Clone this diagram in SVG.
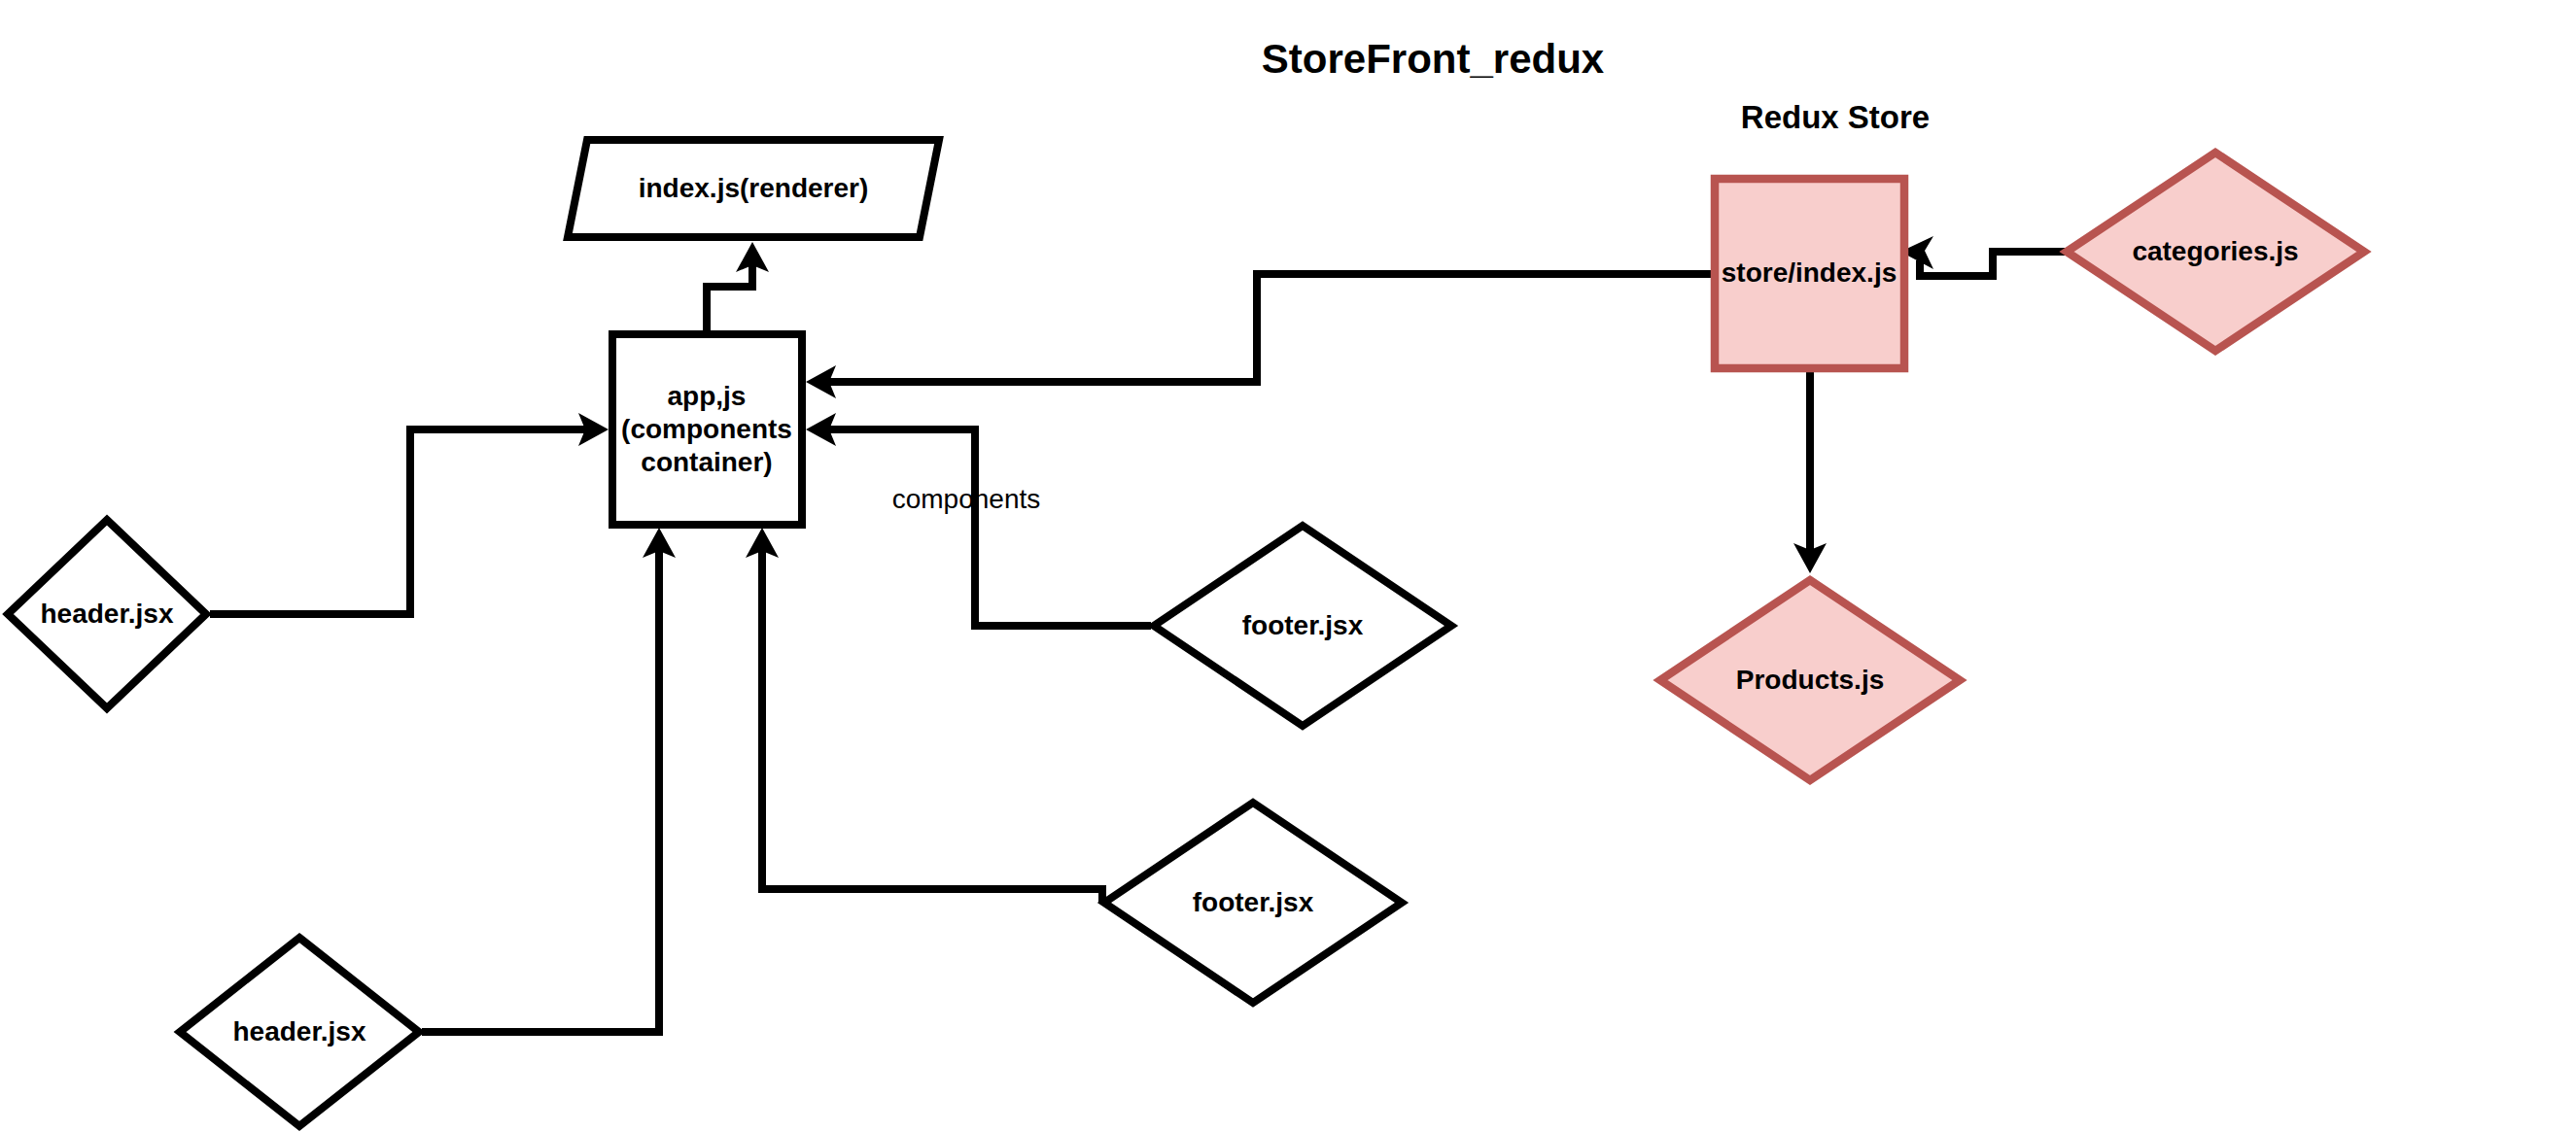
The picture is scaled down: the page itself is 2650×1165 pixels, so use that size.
<svg xmlns="http://www.w3.org/2000/svg" width="2650" height="1165" viewBox="0 0 2650 1165">
  <style>
    text { font-family: "Liberation Sans", Arial, Helvetica, sans-serif; fill: #000; text-anchor: middle; }
    .lbl { font-size: 28px; font-weight: bold; }
    .plain { font-size: 28px; font-weight: normal; }
    .shape { fill: #ffffff; stroke: #000000; stroke-width: 8; stroke-linejoin: miter; }
    .red { fill: #f8cecc; stroke: #b85450; stroke-width: 8.5; stroke-linejoin: miter; }
    .edge { fill: none; stroke: #000000; stroke-width: 8; stroke-linejoin: miter; }
    .edge.arr { marker-end: url(#arrow); }
  </style>
  <defs>
    <marker id="arrow" markerUnits="userSpaceOnUse" viewBox="0 -18 32 36" markerWidth="32" markerHeight="36" refX="7" refY="0" orient="auto">
      <path d="M0,-17 L31,0 L0,17 L7,0 Z" fill="#000000"/>
    </marker>
  </defs>
  <rect x="0" y="0" width="2650" height="1165" fill="#ffffff"/>

  <g id="title">
    <text x="1474" y="75" style="font-size:42px;font-weight:bold">StoreFront_redux</text>
  </g>
  <g id="redux-store-label">
    <text x="1888" y="132" style="font-size:33px;font-weight:bold">Redux Store</text>
  </g>

  <g id="edge-label-components">
    <text class="plain" x="994" y="523">components</text>
  </g>

  <g id="connectors">
    <path class="edge arr" d="M727,344 V295 H774 V273"/>
    <path class="edge arr" d="M1764,282 H1293 V393 H853"/>
    <path class="edge arr" d="M216,632 H422 V442 H602"/>
    <path class="edge arr" d="M1184,644 H1003 V442 H853"/>
    <path class="edge arr" d="M434,1062 H678 V567"/>
    <path class="edge arr" d="M1134,929 V915 H784 V567"/>
    <path class="edge arr" d="M1862,383 V566"/>
    <path class="edge" d="M2124,259 H2050 V284 H1975 V268"/>
    <path d="M1955,259 L1989,243 L1980,258 L1989,277 Z" fill="#000000"/>
  </g>

  <g id="node-index">
    <polygon class="shape" points="604,144 966,144 946,244 584,244"/>
    <text class="lbl" x="775" y="203">index.js(renderer)</text>
  </g>

  <g id="node-app">
    <rect class="shape" x="630" y="344" width="195" height="196"/>
    <text class="lbl" x="727" y="417">app,js</text>
    <text class="lbl" x="727" y="451">(components</text>
    <text class="lbl" x="727" y="485">container)</text>
  </g>

  <g id="node-header1">
    <polygon class="shape" points="110,535 212,632 110,729 8,632"/>
    <text class="lbl" x="110" y="641">header.jsx</text>
  </g>

  <g id="node-header2">
    <polygon class="shape" points="308,965 431,1062 308,1159 185,1062"/>
    <text class="lbl" x="308" y="1071">header.jsx</text>
  </g>

  <g id="node-footer1">
    <polygon class="shape" points="1340,541 1493,644 1340,747 1187,644"/>
    <text class="lbl" x="1340" y="653">footer.jsx</text>
  </g>

  <g id="node-footer2">
    <polygon class="shape" points="1289,826 1442,929 1289,1032 1136,929"/>
    <text class="lbl" x="1289" y="938">footer.jsx</text>
  </g>

  <g id="node-store">
    <rect class="red" x="1764" y="184" width="195" height="195"/>
    <text class="lbl" x="1861" y="290">store/index.js</text>
  </g>

  <g id="node-categories">
    <polygon class="red" points="2279,157 2432,259 2279,361 2126,259"/>
    <text class="lbl" x="2279" y="268">categories.js</text>
  </g>

  <g id="node-products">
    <polygon class="red" points="1862,597 2016,700 1862,803 1708,700"/>
    <text class="lbl" x="1862" y="709">Products.js</text>
  </g>
</svg>
